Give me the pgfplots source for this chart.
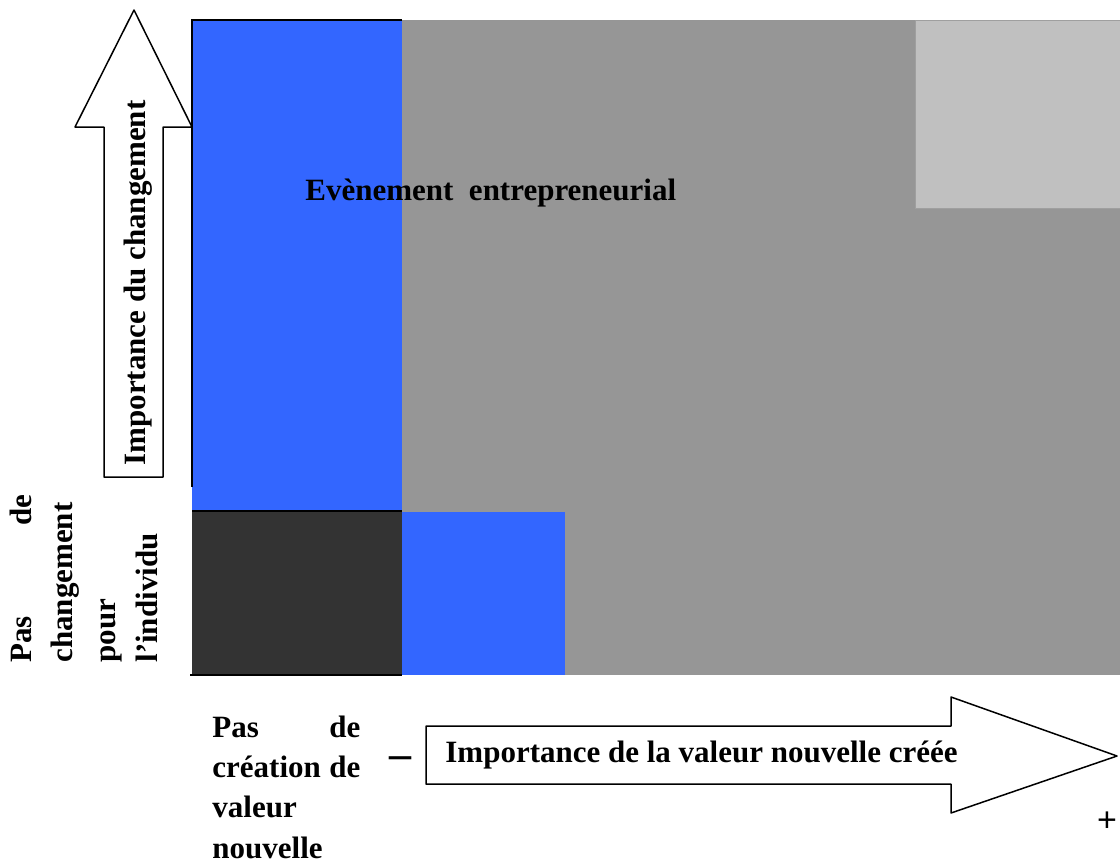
\documentclass[border=0pt]{standalone}
\usepackage{pgfplots}
\pgfplotsset{compat=1.18}
\usepackage{fontspec}
\setmainfont{Liberation Serif}
\newfontfamily\sansf{Liberation Sans}
\definecolor{cblue}{HTML}{3366FF}
\definecolor{cgray}{HTML}{969696}
\definecolor{clight}{HTML}{C0C0C0}
\definecolor{cdark}{HTML}{333333}
\begin{document}
\begin{tikzpicture}[lbl/.style={font=\bfseries\fontsize{15.5}{18}\selectfont, inner sep=0pt}]
\begin{axis}[width=560pt, height=431.5pt, scale only axis,
  xmin=0, xmax=1120, ymin=0, ymax=863, y dir=reverse,
  hide axis, clip=false]
% background regions
\addplot[fill=cgray, draw=none] coordinates {(402,20)(1120,20)(1120,675)(402,675)} --cycle;
\addplot[fill=clight, draw=gray!75, line width=0.4pt] coordinates {(915,20)(1120,20)(1120,208)(915,208)} --cycle;
\addplot[fill=cblue, draw=none] coordinates {(192,20)(402,20)(402,511)(192,511)} --cycle;
\addplot[fill=cdark, draw=none] coordinates {(192,511)(402,511)(402,675)(192,675)} --cycle;
\addplot[fill=cblue, draw=none] coordinates {(402,512)(565,512)(565,675)(402,675)} --cycle;
% black edges
\addplot[black, line width=1pt] coordinates {(192,487)(192,20)(402,20)};
\addplot[black, line width=1pt] coordinates {(192,511)(402,511)};
\addplot[black, line width=1pt] coordinates {(190,675)(402,675)};
% up arrow
\addplot[fill=white, draw=black, line width=0.75pt, line join=round] coordinates {(104,477)(104,127)(75,127)(134,10)(192,127)(163,127)(163,477)} --cycle;
% right arrow
\addplot[fill=white, draw=black, line width=0.75pt, line join=round] coordinates {(426,726)(951,726)(951,697)(1117,756)(951,813)(951,784)(426,784)} --cycle;
% texts
\node[lbl, anchor=base west] at (305,200) {Evènement\ \ entrepreneurial};
\node[lbl, rotate=90, anchor=base] at (145,283) {Importance du changement};
\node[lbl, anchor=base west] at (445,762) {Importance de la valeur nouvelle créée};
\node[lbl, rotate=90, anchor=base west] at (32,663) {\makebox[84pt][s]{Pas de}};
\node[lbl, rotate=90, anchor=base west] at (72,663) {changement};
\node[lbl, rotate=90, anchor=base west] at (115,663) {pour};
\node[lbl, rotate=90, anchor=base west] at (157,663) {l’individu};
\node[lbl, anchor=base west] at (212,737) {\makebox[74pt][s]{Pas de}};
\node[lbl, anchor=base west] at (212,777) {\makebox[74pt][s]{création de}};
\node[lbl, anchor=base west] at (212,817) {valeur};
\node[lbl, anchor=base west] at (212,858) {nouvelle};
\node[inner sep=0pt, anchor=center, font=\bfseries\fontsize{22}{22}\selectfont] at (400,763) {–};
\node[inner sep=0pt, anchor=center, font=\sansf\fontsize{17}{17}\selectfont] at (1107,822) {+};
\end{axis}
\pgfresetboundingbox
\useasboundingbox (current axis.south west) rectangle (current axis.north east);
\end{tikzpicture}
\end{document}
